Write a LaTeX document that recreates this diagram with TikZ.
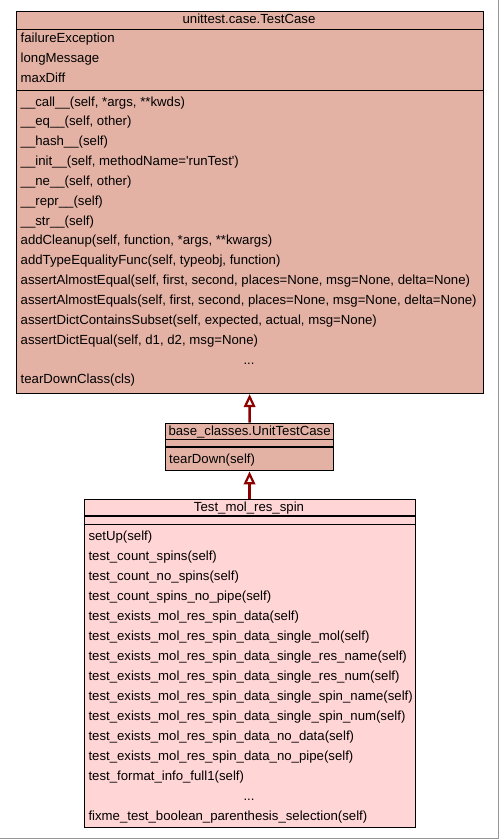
\documentclass[tikz,border=0pt]{standalone}
\usepackage{fontspec}
\setmainfont{Liberation Sans}
\usepackage{tikz}
\usetikzlibrary{arrows.meta, positioning}
\definecolor{basefill}{RGB}{228,178,164}
\definecolor{testfill}{RGB}{255,213,214}
\definecolor{inheritred}{RGB}{140,0,0}
\definecolor{framegray}{RGB}{150,150,150}
\tikzset{
  classbox/.style={
    rectangle, draw=black, line width=1.1pt, inner sep=0pt,
    anchor=north west
  },
  member/.style={anchor=base west, inner sep=0pt, font=\fontsize{13.2}{15}\selectfont},
  classname/.style={anchor=base, inner sep=0pt, font=\fontsize{13.2}{15}\selectfont},
  divider/.style={draw=black, line width=1.1pt},
  inherit/.style={draw=inheritred, line width=2.6pt,
    -{Triangle[length=13pt, width=11.5pt, fill=white, line width=2.2pt]}},
}

\begin{document}
\begin{tikzpicture}[x=1pt, y=-1pt]
  \useasboundingbox (0,0) rectangle (499,839);
  \draw[framegray, line width=1pt] (0,838.5) -- (498.5,838.5) -- (498.5,0);

  % unittest.case.TestCase
  \node[classbox, fill=basefill, minimum width=467pt, minimum height=382pt] (testcase) at (15.6,11) {};
  \node[classname] (testcase-name) at (249,23.5) {unittest.case.TestCase};
  \draw[divider] (testcase.west |- 0,29.3) -- (testcase.east |- 0,29.3);
  \draw[divider] (testcase.west |- 0,90.5) -- (testcase.east |- 0,90.5);
  \foreach \a [count=\i from 0] in {failureException, longMessage, maxDiff}
    \node[member] (testcase-a\i) at (20.5,42.3+20*\i) {\a};
  \foreach \m [count=\i from 0] in {%
      {\_\_call\_\_(self, *args, **kwds)},
      {\_\_eq\_\_(self, other)},
      {\_\_hash\_\_(self)},
      {\_\_init\_\_(self, methodName=\textquotesingle runTest\textquotesingle)},
      {\_\_ne\_\_(self, other)},
      {\_\_repr\_\_(self)},
      {\_\_str\_\_(self)},
      {addCleanup(self, function, *args, **kwargs)},
      {addTypeEqualityFunc(self, typeobj, function)},
      {assertAlmostEqual(self, first, second, places=None, msg=None, delta=None)},
      {assertAlmostEquals(self, first, second, places=None, msg=None, delta=None)},
      {assertDictContainsSubset(self, expected, actual, msg=None)},
      {assertDictEqual(self, d1, d2, msg=None)}}
    \node[member] (testcase-m\i) at (20.5,106+19.85*\i) {\m};
  \node[classname] (testcase-dots) at (249,106+19.85*13) {...};
  \node[member] (testcase-last) at (20.5,106+19.85*14) {tearDownClass(cls)};

  % base_classes.UnitTestCase
  \node[classbox, fill=basefill, minimum width=168pt, minimum height=47.6pt] (unittestcase) at (165,422.7) {};
  \node[member] (unittestcase-name) at (168.3,435.3) {base\_classes.UnitTestCase};
  \draw[divider] (unittestcase.west |- 0,439.3) -- (unittestcase.east |- 0,439.3);
  \draw[divider] (unittestcase.west |- 0,447) -- (unittestcase.east |- 0,447);
  \node[member] (unittestcase-m0) at (169,463) {tearDown(self)};

  % Test_mol_res_spin
  \node[classbox, fill=testfill, minimum width=331pt, minimum height=327.7pt] (molresspin) at (83.5,499.3) {};
  \node[classname] (molresspin-name) at (249,511.7) {Test\_mol\_res\_spin};
  \draw[divider] (molresspin.west |- 0,516) -- (molresspin.east |- 0,516);
  \draw[divider] (molresspin.west |- 0,524.3) -- (molresspin.east |- 0,524.3);
  \foreach \m [count=\i from 0] in {%
      setUp(self),
      test\_count\_spins(self),
      test\_count\_no\_spins(self),
      test\_count\_spins\_no\_pipe(self),
      test\_exists\_mol\_res\_spin\_data(self),
      test\_exists\_mol\_res\_spin\_data\_single\_mol(self),
      test\_exists\_mol\_res\_spin\_data\_single\_res\_name(self),
      test\_exists\_mol\_res\_spin\_data\_single\_res\_num(self),
      test\_exists\_mol\_res\_spin\_data\_single\_spin\_name(self),
      test\_exists\_mol\_res\_spin\_data\_single\_spin\_num(self),
      test\_exists\_mol\_res\_spin\_data\_no\_data(self),
      test\_exists\_mol\_res\_spin\_data\_no\_pipe(self),
      test\_format\_info\_full1(self)}
    \node[member] (molresspin-m\i) at (88.3,540+20*\i) {\m};
  \node[classname] (molresspin-dots) at (249,540+20*13) {...};
  \node[member] (molresspin-last) at (88.3,540+20*14) {fixme\_test\_boolean\_parenthesis\_selection(self)};

  % inheritance
  \draw[inherit] (unittestcase.north) -- (testcase.south);
  \draw[inherit] (molresspin.north) -- (unittestcase.south);
\end{tikzpicture}
\end{document}
